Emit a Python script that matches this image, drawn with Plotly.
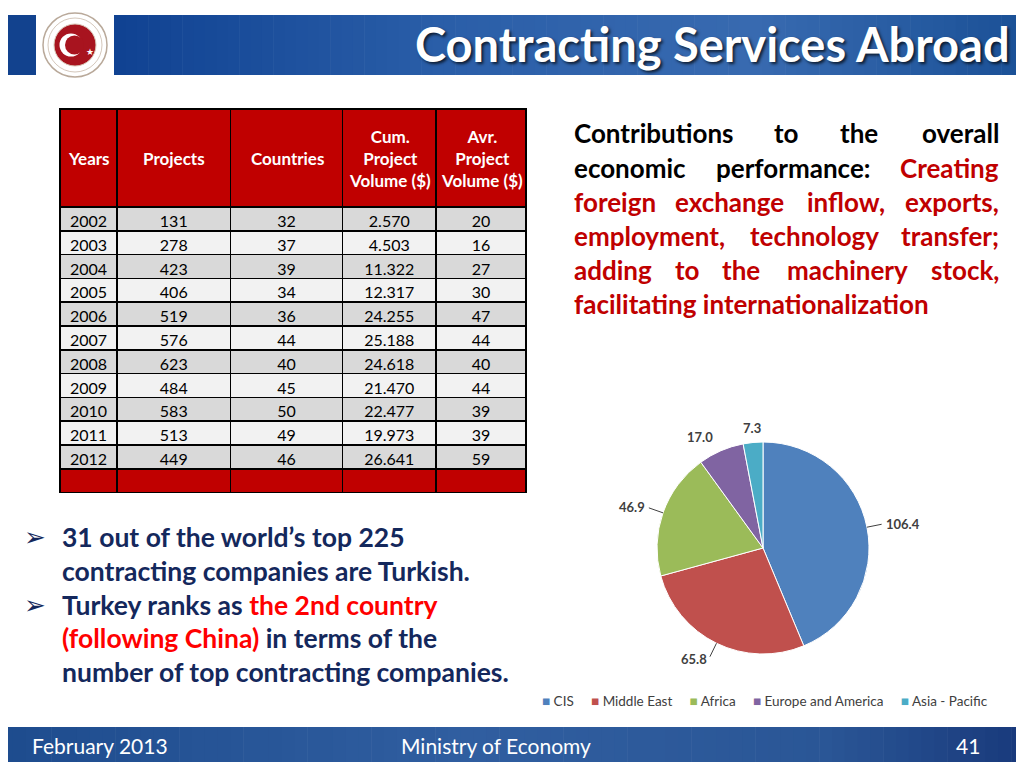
import math
import plotly.graph_objects as go

# ---- data: yearly contracting services abroad ----
years = [2002, 2003, 2004, 2005, 2006, 2007, 2008, 2009, 2010, 2011, 2012]
projects = [131, 278, 423, 406, 519, 576, 623, 484, 583, 513, 449]
countries = [32, 37, 39, 34, 36, 44, 40, 45, 50, 49, 46]
cum_volume = [2570, 4503, 11322, 12317, 24255, 25188, 24618, 21470, 22477, 19973, 26641]
avg_volume = [20, 16, 27, 30, 47, 44, 40, 44, 39, 39, 59]
table_headers = ['Years', 'Projects', 'Countries',
                 'Cum.<br>Project<br>Volume ($)', 'Avr.<br>Project<br>Volume ($)']
col_widths = [57, 114, 112, 94, 90]

# ---- data: breakdown by region ----
regions = ['CIS', 'Middle East', 'Africa', 'Europe and America', 'Asia - Pacific']
region_values = [106.4, 65.8, 46.9, 17.0, 7.3]
region_colors = ['#4f81bd', '#c0504d', '#9bbb59', '#8064a2', '#4bacc6']

# page body has an 8px margin, so the figure is 1016x760 and slide pixels are shifted
OFF = 8
W, H = 1024 - OFF, 768 - OFF
FONT = 'Lato'
NAVY = '#14285c'
DARKRED = '#c00000'


def X(p):
    return (p - OFF) / W


def Y(p):
    return 1 - (p - OFF) / H


def lerp_color(stops, t):
    for (t0, c0), (t1, c1) in zip(stops, stops[1:]):
        if t0 <= t <= t1:
            f = (t - t0) / (t1 - t0)
            c = [round(a + (b - a) * f) for a, b in zip(c0, c1)]
            return f'rgb({c[0]},{c[1]},{c[2]})'
    c = stops[-1][1]
    return f'rgb({c[0]},{c[1]},{c[2]})'


shapes = []
annotations = []

#%% header + footer bands (simple horizontal gradients)
head_stops = [(0, (16, 66, 146)), (0.35, (42, 94, 168)), (0.7, (56, 106, 176)), (1, (26, 80, 150))]
foot_stops = [(0, (30, 76, 142)), (0.45, (48, 94, 160)), (0.8, (42, 86, 150)), (1, (24, 56, 122))]
n = 80
for i in range(n):
    x0 = 114 + (1024 - 114) * i / n
    x1 = 114 + (1024 - 114) * (i + 1) / n + 0.6
    shapes.append(dict(type='rect', xref='paper', yref='paper', x0=X(x0), x1=X(x1), y0=Y(75), y1=Y(15),
                       fillcolor=lerp_color(head_stops, i / n), line_width=0, layer='below'))
for i in range(n):
    x0 = 1024 * i / n
    x1 = 1024 * (i + 1) / n + 0.6
    shapes.append(dict(type='rect', xref='paper', yref='paper', x0=X(x0), x1=X(x1), y0=Y(762), y1=Y(727),
                       fillcolor=lerp_color(foot_stops, i / n), line_width=0, layer='below'))
shapes.append(dict(type='rect', xref='paper', yref='paper', x0=X(0), x1=X(36), y0=Y(75), y1=Y(15),
                   fillcolor='rgb(18,66,142)', line_width=0, layer='below'))


# logo (ministry seal)
def circle(cx, cy, r, fill, line_color=None, lw=0):
    return dict(type='circle', xref='paper', yref='paper', x0=X(cx - r), x1=X(cx + r),
                y0=Y(cy + r), y1=Y(cy - r), fillcolor=fill,
                line=dict(color=line_color or fill, width=lw))


shapes += [
    circle(75, 45, 32, 'white', '#b9a99a', 1.5),
    circle(75, 45, 27, 'white', '#c9b9aa', 0.8),
    circle(75, 45, 21, '#a8141f', '#d8c8b8', 1),
    circle(71, 45, 11.5, 'white'),
    circle(74.5, 45, 9.5, '#a8141f'),
]
annotations.append(dict(text='★', x=X(83.5), y=Y(45), xref='paper', yref='paper', showarrow=False,
                        font=dict(family='DejaVu Sans', size=9, color='white')))

annotations.append(dict(text='<b>Contracting Services Abroad</b>', x=X(1012), y=Y(44), xref='paper', yref='paper',
                        xanchor='right', yanchor='middle', showarrow=False,
                        font=dict(family=FONT, size=47, color='white', shadow='2px 2px 3px rgba(0,0,0,0.7)')))

for txt, x, anchor in [('February 2013', 30, 'left'), ('Ministry of Economy', 496, 'center'), ('41', 982, 'right')]:
    annotations.append(dict(text=txt, x=X(x), y=Y(745), xref='paper', yref='paper', xanchor=anchor,
                            yanchor='middle', showarrow=False, font=dict(family=FONT, size=21, color='white')))

#%% right-hand justified text, word by word
BLACK = '#000000'
right_lines = [
    (133, [('Contributions', 572, 'left', BLACK), ('to', 786, 'center', BLACK), ('the', 859, 'center', BLACK),
           ('overall', 1001, 'right', BLACK)]),
    (168, [('economic', 572, 'left', BLACK), ('performance:', 793, 'center', BLACK),
           ('Creating', 1001, 'right', DARKRED)]),
    (202, [('foreign', 572, 'left', DARKRED), ('exchange', 729, 'center', DARKRED), ('inflow,', 846, 'center', DARKRED),
           ('exports,', 1001, 'right', DARKRED)]),
    (236, [('employment,', 572, 'left', DARKRED), ('technology', 814, 'center', DARKRED),
           ('transfer;', 1001, 'right', DARKRED)]),
    (270, [('adding', 572, 'left', DARKRED), ('to', 687, 'center', DARKRED), ('the', 741, 'center', DARKRED),
           ('machinery', 847, 'center', DARKRED), ('stock,', 1001, 'right', DARKRED)]),
    (304, [('facilitating internationalization', 572, 'left', DARKRED)]),
]
for ly, words in right_lines:
    for w, x, anchor, col in words:
        annotations.append(dict(text=f'<b>{w}</b>', x=X(x), y=Y(ly), xref='paper', yref='paper', xanchor=anchor,
                                yanchor='middle', showarrow=False, font=dict(family=FONT, size=26, color=col)))

#%% bullets at the bottom left
RED = '#ff0000'
bullet_lines = [
    (537, True, '31 out of the world’s top 225'),
    (571, False, 'contracting companies are Turkish.'),
    (605, True, f'Turkey ranks as <span style="color:{RED}">the 2nd country</span>'),
    (638, False, f'<span style="color:{RED}">(following China)</span> in terms of the'),
    (672, False, 'number of top contracting companies.'),
]
for ly, arrow, txt in bullet_lines:
    if arrow:
        annotations.append(dict(text='➢', x=X(22), y=Y(ly), xref='paper', yref='paper', xanchor='left',
                                yanchor='middle', showarrow=False, font=dict(family='DejaVu Sans', size=26, color=NAVY)))
    annotations.append(dict(text=f'<b>{txt}</b>', x=X(60), y=Y(ly), xref='paper', yref='paper', xanchor='left',
                            yanchor='middle', showarrow=False, font=dict(family=FONT, size=26.5, color=NAVY)))

#%% table
tx0, ty0, header_h, row_h = 60, 109, 98, 23.8
row_fill = ['#d9d9d9' if i % 2 == 0 else '#f2f2f2' for i in range(len(years))] + [DARKRED]
cells = [
    [str(v) for v in years] + [''],
    [str(v) for v in projects] + [''],
    [str(v) for v in countries] + [''],
    [f'{v:,}'.replace(',', '.') for v in cum_volume] + [''],
    [str(v) for v in avg_volume] + [''],
]
tx1 = tx0 + sum(col_widths)
ty1 = ty0 + header_h + row_h * len(cells[0])

table = go.Table(
    domain=dict(x=[X(tx0), X(tx1)], y=[Y(ty1 + 1), Y(ty0)]),
    columnwidth=col_widths,
    header=dict(values=[''] * len(table_headers), fill_color=DARKRED, height=header_h,
                line=dict(color='black', width=1.5)),
    cells=dict(values=cells, fill_color=[row_fill] * 5, height=row_h, align='center',
               line=dict(color='black', width=1.5),
               font=dict(family=FONT, size=16, color='black')),
)

# header labels, vertically centred in the header cells
edge = tx0
for h, w in zip(table_headers, col_widths):
    annotations.append(dict(text=f'<b>{h}</b>', x=X(edge + w / 2), y=Y(ty0 + header_h / 2), xref='paper',
                            yref='paper', xanchor='center', yanchor='middle', showarrow=False,
                            font=dict(family=FONT, size=17, color='white')))
    edge += w

#%% pie
cx, cy, r = 763, 548, 106
pie = go.Pie(
    labels=regions, values=region_values, sort=False, direction='clockwise', rotation=0,
    marker=dict(colors=region_colors, line=dict(color='white', width=1)),
    textinfo='none', hoverinfo='label+value', showlegend=False,
    domain=dict(x=[X(cx - r), X(cx + r)], y=[Y(cy + r), Y(cy - r)]),
)

# value labels around the pie, placed from the slice mid-angles
total = sum(region_values)
cum = 0
for val in region_values:
    mid = (cum + val / 2) / total * 2 * math.pi
    cum += val
    s, c = math.sin(mid), math.cos(mid)
    big = val > 20
    d = 17 if big else 15
    lx, ly = cx + (r + d) * s, cy - (r + d) * c
    if big:
        shapes.append(dict(type='line', xref='paper', yref='paper',
                           x0=X(cx + r * s), y0=Y(cy - r * c),
                           x1=X(cx + (r + d - 2) * s), y1=Y(cy - (r + d - 2) * c),
                           line=dict(color='#404040', width=1)))
    anchor = 'center' if abs(s) < 0.2 else ('left' if s > 0 else 'right')
    annotations.append(dict(text=f'<b>{val:.1f}</b>', x=X(lx), y=Y(ly), xref='paper', yref='paper',
                            xanchor=anchor, yanchor='middle', showarrow=False,
                            font=dict(family=FONT, size=13, color='#404040')))

legend_txt = '\u00a0\u00a0\u00a0\u00a0\u00a0'.join(
    f'<span style="color:{col}">■</span>\u00a0{lab}' for lab, col in zip(regions, region_colors))
annotations.append(dict(text=legend_txt, x=X(765), y=Y(701), xref='paper', yref='paper', xanchor='center',
                        yanchor='middle', showarrow=False, font=dict(family=FONT, size=13.5, color='#404040')))

fig = go.Figure([table, pie])
fig.update_layout(
    width=W, height=H,
    margin=dict(l=0, r=0, t=0, b=0),
    paper_bgcolor='white', plot_bgcolor='white',
    shapes=shapes, annotations=annotations,
    showlegend=False,
)
fig.write_html("out.html")
